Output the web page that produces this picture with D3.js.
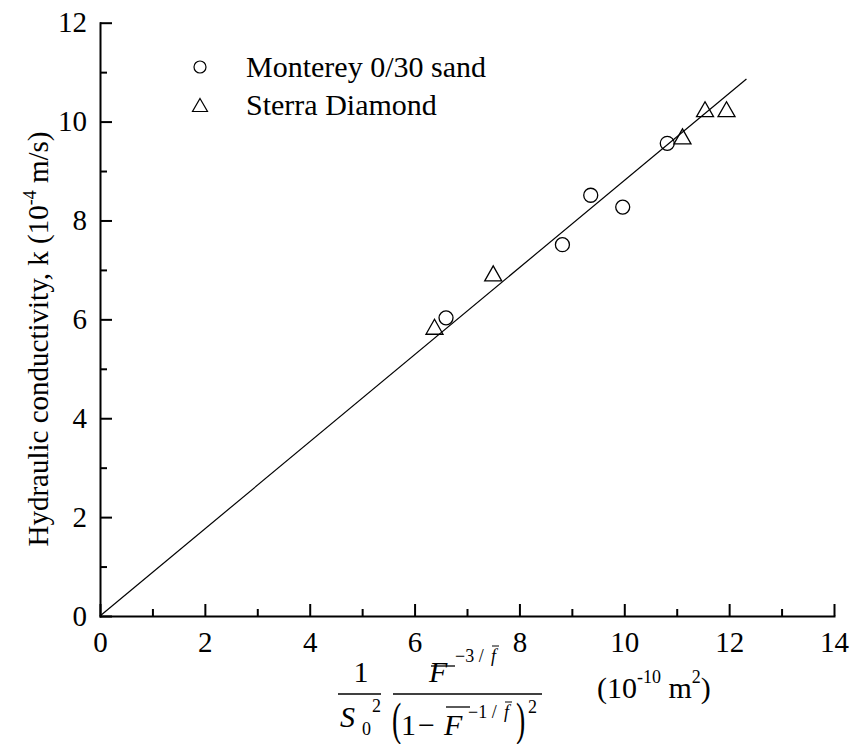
<!DOCTYPE html>
<html>
<head>
<meta charset="utf-8">
<script src="https://cdn.jsdelivr.net/npm/d3@7"></script>
<style>
  body { margin: 0; background: #fff; }
  text { font-family: 'Liberation Serif', serif; fill: #000; }
</style>
</head>
<body>
<div class="container"></div>
<script>
// data
var montereyX = [6.60, 8.82, 9.36, 9.97, 10.82];
var montereyY = [6.03, 7.51, 8.51, 8.27, 9.56];
var sterraX = [6.38, 7.50, 11.11, 11.54, 11.95];
var sterraY = [5.85, 6.93, 9.70, 10.25, 10.25];
var fitX = [0, 12.33];
var fitY = [0, 10.86];
var xTicks = [0, 2, 4, 6, 8, 10, 12, 14];
var xMinor = [1, 3, 5, 7, 9, 11, 13];
var yTicks = [0, 2, 4, 6, 8, 10, 12];
var yMinor = [1, 3, 5, 7, 9, 11];
var legendNames = ["Monterey 0/30 sand", "Sterra Diamond"];

var width = 854, height = 744;
var serif = "'Liberation Serif', serif";

var svg = d3.select(".container").append("svg")
    .attr("width", width)
    .attr("height", height);

var x = d3.scaleLinear().domain([0, 14]).range([100, 834]);
var y = d3.scaleLinear().domain([0, 12]).range([616, 22.7]);

// minor ticks first
svg.append("g")
    .attr("transform", "translate(0,616)")
    .call(d3.axisBottom(x).tickValues(xMinor).tickSize(-7).tickFormat(""))
    .call(function(g) { g.select(".domain").remove(); })
    .selectAll("line").attr("stroke-width", 2);
svg.append("g")
    .attr("transform", "translate(100,0)")
    .call(d3.axisLeft(y).tickValues(yMinor).tickSize(-7).tickFormat(""))
    .call(function(g) { g.select(".domain").remove(); })
    .selectAll("line").attr("stroke-width", 2);

// major axes
var xAxis = svg.append("g")
    .attr("transform", "translate(0,616)")
    .call(d3.axisBottom(x).tickValues(xTicks).tickSize(-12).tickSizeOuter(0).tickPadding(15));
var yAxis = svg.append("g")
    .attr("transform", "translate(100,0)")
    .call(d3.axisLeft(y).tickValues(yTicks).tickSize(-12).tickSizeOuter(0).tickPadding(13));

[xAxis, yAxis].forEach(function(a) {
  a.attr("font-family", null).attr("font-size", null);
  a.select(".domain").attr("stroke-width", 2).attr("stroke-linecap", "square");
  a.selectAll(".tick line").attr("stroke-width", 2);
  a.selectAll(".tick text")
    .style("font-family", serif)
    .style("font-size", "29px");
});

// fit line
var line = d3.line()
    .x(function(d) { return x(d[0]); })
    .y(function(d) { return y(d[1]); });
svg.append("path")
    .datum(fitX.map(function(v, i) { return [v, fitY[i]]; }))
    .attr("d", line)
    .attr("fill", "none")
    .attr("stroke", "#000")
    .attr("stroke-width", 1.2);

var triPath = "M0,-7.5L8.5,7.5L-8.5,7.5Z";

// Monterey circles
svg.selectAll(".mont")
    .data(montereyX.map(function(v, i) { return [v, montereyY[i]]; }))
  .enter().append("circle")
    .attr("class", "mont")
    .attr("cx", function(d) { return x(d[0]); })
    .attr("cy", function(d) { return y(d[1]); })
    .attr("r", 7)
    .attr("fill", "none")
    .attr("stroke", "#000")
    .attr("stroke-width", 1.3);

// Sterra triangles
svg.selectAll(".ster")
    .data(sterraX.map(function(v, i) { return [v, sterraY[i]]; }))
  .enter().append("path")
    .attr("class", "ster")
    .attr("d", triPath)
    .attr("transform", function(d) { return "translate(" + x(d[0]) + "," + y(d[1]) + ")"; })
    .attr("fill", "none")
    .attr("stroke", "#000")
    .attr("stroke-width", 1.3);

// legend
var leg = svg.append("g");
leg.append("circle")
    .attr("cx", 200).attr("cy", 67).attr("r", 6)
    .attr("fill", "none").attr("stroke", "#000").attr("stroke-width", 1.2);
leg.append("path")
    .attr("d", "M0,-6.5L7.5,6.5L-7.5,6.5Z")
    .attr("transform", "translate(200,105)")
    .attr("fill", "none").attr("stroke", "#000").attr("stroke-width", 1.2);
leg.selectAll("text")
    .data(legendNames)
  .enter().append("text")
    .attr("x", 246)
    .attr("y", function(d, i) { return 77 + i * 38; })
    .style("font-size", "30px")
    .text(function(d) { return d; });

// y axis title
var yt = svg.append("text")
    .attr("transform", "translate(48,339) rotate(-90)")
    .attr("text-anchor", "middle")
    .style("font-size", "29px");
yt.append("tspan").text("Hydraulic conductivity, k (10");
yt.append("tspan").attr("dy", -12).style("font-size", "18px").text("-4");
yt.append("tspan").attr("dy", 12).text(" m/s)");

// x axis title: formula built from pieces
var f = svg.append("g").attr("class", "xtitle");
function txt(px, py, s, size, italic, anchor) {
  return f.append("text").attr("x", px).attr("y", py)
    .attr("text-anchor", anchor || "start")
    .style("font-size", size + "px")
    .style("font-style", italic ? "italic" : "normal")
    .text(s);
}
function bar(x1, x2, yy, w) {
  f.append("line").attr("x1", x1).attr("x2", x2).attr("y1", yy).attr("y2", yy)
    .attr("stroke", "#000").attr("stroke-width", w || 1.3);
}
// tall, narrow parenthesis
function paren(px, py, s) {
  f.append("text")
    .attr("transform", "translate(" + px + "," + py + ") scale(0.9,1.5)")
    .style("font-size", "31px")
    .text(s);
}
// first fraction 1 / S0^2
txt(361, 682, "1", 30, false, "middle");
bar(338, 381, 694);
txt(340, 727, "S", 30, true);
txt(362, 735, "0", 18, false);
txt(372, 712, "2", 18, false);
// second fraction
txt(429, 682, "F", 30, true);
bar(431, 455, 666);
txt(455, 662, "\u22123 / ", 18, false);
txt(491, 662, "f", 18, true);
bar(492, 499, 646, 1);
bar(393, 542, 694);
paren(392, 735, "(");
txt(401, 735, "1", 30, false);
txt(418, 735, "\u2212", 30, false);
txt(444, 735, "F", 30, true);
bar(446, 470, 707);
txt(468, 718, "\u22121 / ", 18, false);
txt(504, 718, "f", 18, true);
bar(505, 512, 702, 1);
paren(516, 735, ")");
txt(528, 713, "2", 18, false);
// units
var u = f.append("text").attr("x", 597).attr("y", 698).style("font-size", "30px");
u.append("tspan").text("(10");
u.append("tspan").attr("dy", -15).style("font-size", "18px").text("-10");
u.append("tspan").attr("dy", 15).text(" m");
u.append("tspan").attr("dy", -15).style("font-size", "18px").text("2");
u.append("tspan").attr("dy", 15).text(")");
</script>
</body>
</html>
